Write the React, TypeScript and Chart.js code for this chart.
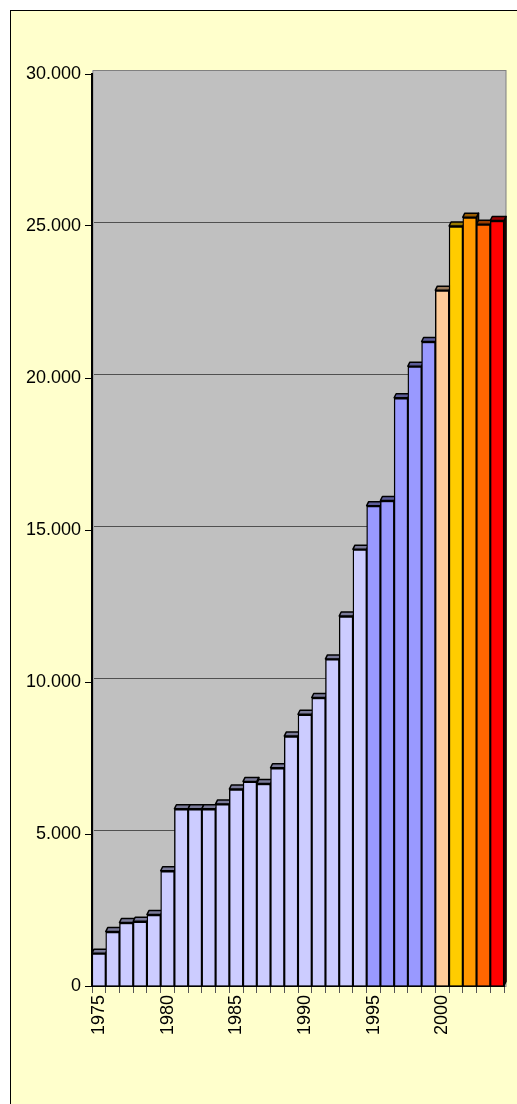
import { useEffect, useRef } from 'react';
import { Chart, registerables } from 'chart.js';

Chart.register(...registerables);

const years = [
  '1975', '1976', '1977', '1978', '1979', '1980', '1981', '1982', '1983', '1984',
  '1985', '1986', '1987', '1988', '1989', '1990', '1991', '1992', '1993', '1994',
  '1995', '1996', '1997', '1998', '1999', '2000', '2001', '2002', '2003', '2004',
];

const values = [
  1080, 1790, 2090, 2130, 2350, 3790, 5830, 5830, 5830, 5990,
  6480, 6730, 6660, 7180, 8220, 8940, 9490, 10760, 12170, 14370,
  15800, 15970, 19350, 20390, 21200, 22890, 25000, 25290, 25060, 25180,
];

const labeledYears = ['1975', '1980', '1985', '1990', '1995', '2000'];

const yMin = 0;
const yMax = 30000;
const yStep = 5000;

const LIGHT = '#CCCCFF';
const MID = '#9999FF';
const barColors = [
  LIGHT, LIGHT, LIGHT, LIGHT, LIGHT, LIGHT, LIGHT, LIGHT, LIGHT, LIGHT,
  LIGHT, LIGHT, LIGHT, LIGHT, LIGHT, LIGHT, LIGHT, LIGHT, LIGHT, LIGHT,
  MID, MID, MID, MID, MID,
  '#FFCC99', '#FFCC00', '#FF9900', '#FF6600', '#FF0000',
];

const DX = 2;
const DY = 4;
const FONT = "'Liberation Sans', Arial, sans-serif";

function shade(hex: string, f: number): string {
  const n = parseInt(hex.slice(1), 16);
  const r = Math.round(((n >> 16) & 255) * f);
  const g = Math.round(((n >> 8) & 255) * f);
  const b = Math.round((n & 255) * f);
  return `rgb(${r},${g},${b})`;
}

function fmt(v: number): string {
  return String(v).replace(/\B(?=(\d{3})+(?!\d))/g, '.');
}

const threeD = {
  id: 'threeD',
  beforeDraw(chart: any) {
    const { ctx, width, height, chartArea: a } = chart;
    ctx.save();
    ctx.fillStyle = '#FFFFFF';
    ctx.fillRect(0, 0, width, height);
    ctx.fillStyle = '#FFFFCC';
    ctx.fillRect(10, 10, width, height);
    ctx.strokeStyle = '#000000';
    ctx.lineWidth = 1;
    ctx.strokeRect(10.5, 10.5, width + 40, height + 40);

    // back wall
    ctx.fillStyle = '#C0C0C0';
    ctx.fillRect(a.left, a.top - DY, a.right - a.left + DX, a.bottom - a.top + DY);
    ctx.strokeStyle = '#808080';
    ctx.lineWidth = 1;
    ctx.strokeRect(a.left + 1.5, a.top - DY + 0.5, a.right - a.left + DX - 1.5, a.bottom - a.top + DY);
    ctx.fillStyle = '#A8A8A8';
    ctx.fillRect(a.left, a.top - DY + 1, 2, a.bottom - a.top + DY - 1);

    // gridlines on the back wall
    const ys = chart.scales.y;
    ctx.strokeStyle = '#505050';
    ctx.lineWidth = 1;
    ys.ticks.forEach((t: any) => {
      if (t.value === yMin || t.value === yMax) return;
      const py = Math.round(ys.getPixelForValue(t.value)) - DY + 0.5;
      ctx.beginPath();
      ctx.moveTo(a.left + DX, py);
      ctx.lineTo(a.right + DX, py);
      ctx.stroke();
    });
    ctx.restore();
  },
  beforeDatasetsDraw(chart: any) {
    const { ctx } = chart;
    const meta = chart.getDatasetMeta(0);
    ctx.save();
    ctx.lineWidth = 1.5;
    ctx.strokeStyle = '#000000';
    ctx.lineJoin = 'round';
    meta.data.forEach((bar: any, i: number) => {
      const { x, y, base, width } = bar.getProps(['x', 'y', 'base', 'width'], true);
      const L = x - width / 2;
      const R = x + width / 2;
      const c = barColors[i];
      // side face
      ctx.beginPath();
      ctx.moveTo(R, y);
      ctx.lineTo(R + DX, y - DY);
      ctx.lineTo(R + DX, base - DY);
      ctx.lineTo(R, base);
      ctx.closePath();
      ctx.fillStyle = shade(c, 0.4);
      ctx.fill();
      ctx.stroke();
      // top cap
      ctx.beginPath();
      ctx.moveTo(L, y);
      ctx.lineTo(L + DX, y - DY);
      ctx.lineTo(R + DX, y - DY);
      ctx.lineTo(R, y);
      ctx.closePath();
      ctx.fillStyle = shade(c, 0.6);
      ctx.fill();
      ctx.stroke();
    });
    ctx.restore();
  },
};

export default function App() {
  const ref = useRef<HTMLCanvasElement | null>(null);

  useEffect(() => {
    if (!ref.current) return;
    const chart = new Chart(ref.current, {
      type: 'bar',
      data: {
        labels: years,
        datasets: [
          {
            data: values,
            backgroundColor: barColors,
            borderColor: '#000000',
            borderWidth: { top: 2, left: 1.4, right: 1.4, bottom: 0 },
            borderSkipped: 'start',
            categoryPercentage: 1,
            barPercentage: 1,
          },
        ],
      },
      options: {
        animation: false,
        responsive: false,
        events: [],
        layout: { padding: { left: 0, top: 74, right: 13, bottom: 0 } },
        plugins: {
          legend: { display: false },
          tooltip: { enabled: false },
          title: { display: false },
        },
        scales: {
          x: {
            type: 'category',
            offset: true,
            z: 1,
            afterFit: (s: any) => {
              s.height = 118;
              s.paddingLeft = 0;
              s.paddingRight = 0;
            },
            grid: {
              offset: true,
              drawOnChartArea: false,
              drawTicks: true,
              tickLength: 7,
              color: '#555555',
              lineWidth: 1,
            },
            border: { display: true, color: '#000000', width: 2 },
            ticks: {
              autoSkip: false,
              maxRotation: 90,
              minRotation: 90,
              padding: 2,
              color: '#000000',
              font: { family: FONT, size: 18 },
              callback: (_v: any, idx: number) =>
                labeledYears.includes(years[idx]) ? years[idx] : '',
            },
          },
          y: {
            min: yMin,
            max: yMax,
            z: 1,
            afterFit: (s: any) => {
              s.width = 92;
              s.paddingTop = 0;
              s.paddingBottom = 0;
            },
            grid: {
              drawOnChartArea: false,
              drawTicks: true,
              tickLength: 7,
              color: '#000000',
              lineWidth: 1,
            },
            border: { display: true, color: '#000000', width: 2 },
            ticks: {
              stepSize: yStep,
              padding: 4,
              color: '#000000',
              font: { family: FONT, size: 18 },
              callback: (v: any) => fmt(Number(v)),
            },
          },
        },
      },
      plugins: [threeD],
    });
    return () => chart.destroy();
  }, []);

  return (
    <canvas
      ref={ref}
      width={517}
      height={1104}
      style={{ position: 'fixed', left: 0, top: 0, width: 517, height: 1104, display: 'block' }}
    />
  );
}
